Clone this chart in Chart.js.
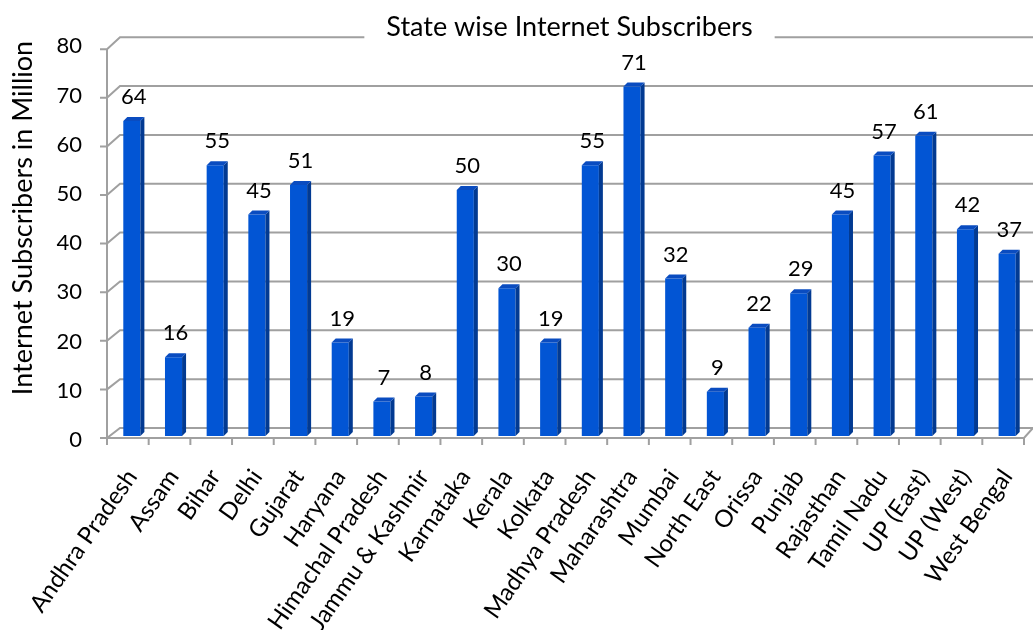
<!DOCTYPE html>
<html>
<head>
<meta charset="utf-8">
<script src="https://cdn.jsdelivr.net/npm/chart.js@4.4.1/dist/chart.umd.min.js"></script>
<style>
  html, body { margin: 0; padding: 0; background: #ffffff; }
  #wrap { width: 1033px; height: 630px; }
</style>
</head>
<body>
<div id="wrap"><canvas id="c" width="1033" height="630"></canvas></div>
<script>
const chartTitle = "State wise Internet Subscribers";
const yAxisTitle = "Internet Subscribers in Million";
const categories = ["Andhra Pradesh", "Assam", "Bihar", "Delhi", "Gujarat", "Haryana",
  "Himachal Pradesh", "Jammu & Kashmir", "Karnataka", "Kerala", "Kolkata", "Madhya Pradesh",
  "Maharashtra", "Mumbai", "North East", "Orissa", "Punjab", "Rajasthan", "Tamil Nadu",
  "UP (East)", "UP (West)", "West Bengal"];
const subscribers = [64, 16, 55, 45, 51, 19, 7, 8, 50, 30, 19, 55, 71, 32, 9, 22, 29, 45, 57, 61, 42, 37];
const yTickValues = [0, 10, 20, 30, 40, 50, 60, 70, 80];

const FONT = "Lato";
const DEPTH_X = 13;

// front/back offsets of the 3D wall relative to the bar plane
const frontOff = v => 2 + 5 * v / 80;
const backOff = v => -8 + 3 * v / 80;

const wallPlugin = {
  id: 'wall3d',
  beforeDraw(chart) {
    const ctx = chart.ctx;
    const ys = chart.scales.y, xs = chart.scales.x;
    const ca = chart.chartArea;
    ctx.save();
    ctx.fillStyle = '#ffffff';
    ctx.fillRect(0, 0, chart.width, chart.height);
    const axX = ca.left - 4;
    const step = (xs.getPixelForValue(1) - xs.getPixelForValue(0));
    const floorRight = axX + categories.length * step;
    ctx.strokeStyle = '#a0a0a0';
    ctx.lineWidth = 2;
    ctx.beginPath();
    yTickValues.forEach(v => {
      const p = ys.getPixelForValue(v);
      const yF = p + frontOff(v);
      const yB = p + backOff(v);
      ctx.moveTo(axX - 7, yF); ctx.lineTo(axX, yF);
      ctx.lineTo(axX + DEPTH_X, yB);
      ctx.lineTo(chart.width, yB);
    });
    const y0 = ys.getPixelForValue(0) + frontOff(0);
    const yTop = ys.getPixelForValue(80) + frontOff(80);
    ctx.moveTo(axX, yTop); ctx.lineTo(axX, y0);
    ctx.moveTo(axX, y0); ctx.lineTo(floorRight, y0);
    ctx.lineTo(floorRight + 9, ys.getPixelForValue(0) + backOff(0));
    for (let k = 0; k <= categories.length; k++) {
      const x = axX + k * step;
      ctx.moveTo(x, y0); ctx.lineTo(x, y0 + 7);
    }
    ctx.stroke();
    // white box behind chart title
    const tb = chart.titleBlock;
    ctx.font = `27px ${FONT}`;
    const w = ctx.measureText(chartTitle).width;
    const cx = (tb.left + tb.right) / 2;
    ctx.fillStyle = '#ffffff';
    ctx.fillRect(cx - w / 2 - 22, 0, w + 44, tb.bottom + 6);
    // y-axis title
    ctx.fillStyle = '#000000';
    ctx.translate(23, 218);
    ctx.rotate(-Math.PI / 2);
    ctx.textAlign = 'center';
    ctx.textBaseline = 'middle';
    ctx.font = `27px ${FONT}`;
    ctx.fillText(yAxisTitle, 0, 0);
    ctx.restore();
  }
};

const barPlugin = {
  id: 'bar3d',
  afterDatasetsDraw(chart) {
    const ctx = chart.ctx;
    const meta = chart.getDatasetMeta(0);
    ctx.save();
    meta.data.forEach((bar, i) => {
      const p = bar.getProps(['x', 'y', 'base', 'width'], true);
      const l = p.x - p.width / 2, r = p.x + p.width / 2;
      const d = 4, dy = 4;
      ctx.fillStyle = '#023a92';
      ctx.beginPath();
      ctx.moveTo(r, p.y); ctx.lineTo(r + d, p.y - dy);
      ctx.lineTo(r + d, p.base - dy); ctx.lineTo(r, p.base);
      ctx.closePath(); ctx.fill();
      ctx.fillStyle = '#0a4cc0';
      ctx.beginPath();
      ctx.moveTo(l, p.y); ctx.lineTo(l + d, p.y - dy);
      ctx.lineTo(r + d, p.y - dy); ctx.lineTo(r, p.y);
      ctx.closePath(); ctx.fill();
      ctx.fillStyle = '#000000';
      ctx.font = `22px ${FONT}`;
      ctx.textAlign = 'center';
      ctx.textBaseline = 'bottom';
      ctx.fillText(String(subscribers[i]), p.x + 2, p.y - 13);
    });
    ctx.restore();
  }
};

new Chart(document.getElementById('c'), {
  type: 'bar',
  data: {
    labels: categories,
    datasets: [{
      data: subscribers,
      backgroundColor: '#0255d4',
      borderWidth: 0,
      barPercentage: 0.41,
      categoryPercentage: 1
    }]
  },
  options: {
    responsive: false,
    animation: false,
    layout: { padding: { left: 0, right: 5, top: 0, bottom: 0 } },
    plugins: {
      legend: { display: false },
      tooltip: { enabled: false },
      title: {
        display: true,
        fullSize: false,
        text: chartTitle,
        color: '#000000',
        font: { family: FONT, size: 27, weight: 'normal', lineHeight: 1.1 },
        padding: { top: 6, bottom: 0 }
      }
    },
    scales: {
      x: {
        grid: { display: false, drawTicks: false },
        border: { display: false },
        ticks: {
          color: '#000000',
          font: { family: FONT, size: 24 },
          minRotation: 55, maxRotation: 55,
          autoSkip: false,
          padding: 28
        },
        afterFit(s) { s.height = 630 - 436; s.paddingLeft = 0; s.paddingRight = 0; }
      },
      y: {
        min: 0, max: 80,
        afterBuildTicks(s) { s.ticks = yTickValues.map(v => ({ value: v })); },
        grid: { display: false, drawTicks: false },
        border: { display: false },
        ticks: {
          color: '#000000',
          font: { family: FONT, size: 22 },
          padding: 29,
          labelOffset: 4
        },
        afterFit(s) { s.width = 111; }
      }
    }
  },
  plugins: [wallPlugin, barPlugin]
});
</script>
</body>
</html>
